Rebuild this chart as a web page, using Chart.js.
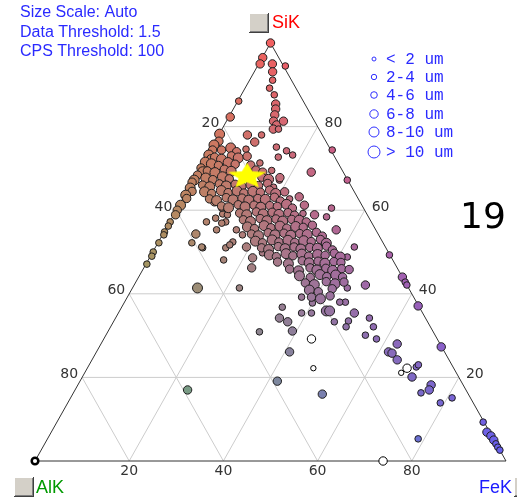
<!DOCTYPE html>
<html>
<head>
<meta charset="utf-8">
<script src="https://cdn.jsdelivr.net/npm/chart.js@4"></script>
<style>
  body { margin: 0; background: #fff; }
  canvas { display: block; }
</style>
</head>
<body>
<canvas id="chart" width="517" height="499"></canvas>
<script>
// Each point: [SiK %, FeK %, particle size in um]; AlK = 100 - SiK - FeK
const topColumn = [
  [100, 0, 7], [96.5, 0.1, 7], [95.0, 0.3, 7], [95.0, 2.9, 7], [94.5, 5.9, 5], [93.1, 3.9, 7],
  [91.1, 4.9, 5], [89.2, 5.2, 5], [87.6, 7.0, 5], [85.4, 8.4, 7], [84.2, 9.0, 7], [82.8, 9.5, 7],
  [81.3, 10.0, 7], [80.4, 11.1, 7], [79.4, 10.9, 7], [79.4, 12.0, 5], [81.3, 12.1, 7], [86.1, 0.2, 5],
];

const leftEdge = [
  [82.3, 0.3, 7], [78.2, 0.1, 9], [76.5, 0.8, 7], [75.6, 0.2, 9], [74.4, 0.5, 7], [73.2, 0.3, 9],
  [72.3, 1.2, 7], [71.5, 0.4, 9], [70.1, 0.2, 7], [69.2, 1.0, 9], [68.4, 0.3, 7], [67.2, 0.2, 9],
  [66.7, 0.0, 7], [65.3, 0.3, 9], [64.5, 1.1, 7], [63.6, 0.2, 9], [62.8, 0.8, 7], [61.2, 0.3, 9],
  [60.0, 0.2, 7], [58.9, 0.4, 7], [57.2, 0.1, 5], [56.2, 0.2, 5], [54.8, 0.1, 5], [54.1, 0.3, 5],
  [52.2, 0.2, 5], [50.0, 0.1, 5], [49.0, 0.3, 5], [47.1, 0.2, 5],
];

const upperBlob = [
  [74.4, 2.4, 7], [74.9, 4.1, 9], [74.0, 5.8, 7], [74.6, 7.5, 5],
  [72.7, 1.8, 7], [72.2, 3.5, 9], [73.0, 5.2, 7], [72.5, 6.9, 9], [72.9, 8.6, 7],
  [71.1, 1.9, 9], [70.7, 3.6, 7], [71.4, 5.3, 9], [71.0, 7.0, 7], [70.8, 10.4, 7], [71.3, 12.1, 5],
  [69.4, 1.9, 7], [69.0, 3.7, 9], [69.8, 5.3, 7], [69.3, 7.0, 9], [69.6, 12.1, 7], [69.1, 13.8, 7], [69.5, 15.5, 5],
  [67.7, 2.4, 9], [67.3, 4.1, 7], [68.0, 5.8, 9], [67.5, 7.5, 7], [67.9, 14.2, 7], [67.4, 15.9, 9], [67.8, 18.1, 7],
  [66.0, 2.6, 7], [65.6, 4.3, 9], [66.3, 6.0, 7], [65.8, 7.7, 9], [66.2, 9.4, 7], [65.7, 11.1, 7],
  [66.1, 12.8, 9], [65.9, 14.5, 7], [66.4, 16.2, 7], [65.5, 17.9, 5],
  [64.4, 3.8, 9], [64.0, 5.5, 7], [64.7, 7.2, 9], [64.2, 8.9, 7], [64.6, 10.6, 9], [64.1, 12.3, 7],
  [64.5, 14.0, 9], [64.3, 15.7, 7], [64.8, 17.4, 7], [64.0, 19.1, 9], [64.4, 20.8, 7],
  [62.7, 5.7, 7], [62.3, 7.4, 9], [63.0, 9.1, 7], [62.5, 10.8, 9], [62.9, 12.5, 7], [62.4, 14.2, 9],
  [62.8, 15.9, 7], [62.6, 17.6, 9], [63.1, 19.3, 7], [62.2, 21.0, 7], [62.7, 22.7, 5],
  [61.0, 9.1, 7], [60.6, 10.8, 9], [61.3, 12.5, 7], [60.8, 14.2, 9], [61.2, 15.9, 7], [60.7, 17.6, 9],
  [61.1, 19.3, 7], [60.9, 21.0, 7], [61.4, 22.7, 9], [60.5, 24.4, 7],
];

const centralCluster = [
  [59.3, 13.8, 7], [58.9, 15.5, 9], [59.6, 17.2, 7], [59.1, 18.9, 9], [59.5, 20.6, 7], [59.0, 22.3, 9],
  [59.4, 24.0, 7], [58.8, 25.7, 7], [59.2, 27.3, 5],
  [57.7, 15.4, 7], [57.3, 17.1, 9], [58.0, 18.8, 7], [57.5, 20.5, 9], [57.9, 22.2, 7], [57.4, 23.9, 9],
  [57.8, 25.6, 7], [57.6, 27.3, 9], [57.2, 29.0, 7],
  [56.0, 17.1, 9], [55.6, 18.8, 7], [56.3, 20.5, 9], [55.8, 22.2, 7], [56.2, 23.9, 9], [55.7, 25.6, 7],
  [56.1, 27.3, 9], [55.9, 29.0, 7], [56.4, 30.7, 7],
  [54.3, 18.8, 7], [53.9, 20.5, 9], [54.6, 22.2, 7], [54.1, 23.9, 9], [54.5, 25.6, 7], [54.0, 27.3, 9],
  [54.4, 29.0, 7], [54.2, 30.7, 9], [54.7, 32.4, 7], [53.8, 34.1, 7],
  [52.6, 20.5, 9], [52.2, 22.2, 7], [52.9, 23.9, 9], [52.4, 25.6, 7], [52.8, 27.3, 9], [52.3, 29.0, 7],
  [52.7, 30.7, 9], [52.5, 32.4, 7], [53.0, 34.1, 7], [52.1, 35.8, 9],
  [51.0, 22.6, 7], [50.6, 24.3, 9], [51.3, 26.0, 7], [50.8, 27.7, 9], [51.2, 29.4, 7], [50.7, 31.1, 9],
  [51.1, 32.8, 7], [50.9, 34.5, 9], [51.4, 36.2, 7], [50.5, 37.9, 7],
  [49.3, 25.1, 9], [48.9, 26.8, 7], [49.6, 28.5, 9], [49.1, 30.2, 7], [49.5, 31.9, 9], [49.0, 33.6, 7],
  [49.4, 35.3, 9], [49.2, 37.0, 7], [49.7, 38.7, 7], [48.8, 40.4, 9],
  [47.6, 27.7, 7], [47.2, 30.2, 9], [47.9, 32.8, 7], [47.4, 34.5, 9], [47.8, 36.2, 7], [47.3, 37.9, 9],
  [47.7, 39.6, 7], [47.5, 41.2, 7],
  [45.9, 31.1, 7], [45.5, 33.2, 9], [46.2, 35.3, 7], [45.7, 37.0, 9], [46.1, 38.7, 7], [45.6, 40.4, 9],
  [46.0, 42.1, 7], [45.8, 43.8, 7],
  [44.3, 34.0, 9], [43.9, 36.5, 7], [44.6, 38.2, 9], [44.1, 39.9, 7], [44.5, 41.6, 9], [44.0, 43.3, 7],
  [42.6, 36.1, 7], [42.2, 38.2, 9], [42.9, 40.4, 7], [42.4, 42.5, 9], [42.8, 44.2, 7],
  [40.9, 37.8, 9], [40.5, 39.9, 7], [41.2, 42.5, 7],
  [39.2, 39.1, 7], [38.8, 41.2, 9], [39.5, 42.9, 7],
];

const scattered = [
  [78.0, 6.1, 7], [78.0, 9.1, 5], [76.3, 8.5, 7], [75.1, 13.7, 5], [72.7, 15.3, 5], [74.2, 16.3, 5],
  [73.2, 18.1, 5], [69.1, 24.1, 7], [74.4, 25.9, 5], [67.2, 32.7, 5], [67.2, 18.3, 5], [63.2, 24.5, 7],
  [61.2, 26.6, 7], [58.9, 29.9, 7], [60.5, 32.7, 5], [58.4, 32.7, 5], [55.3, 36.3, 7], [51.2, 42.2, 5],
  [48.8, 41.9, 5], [49.3, 50.6, 5], [44.0, 56.0, 7], [42.8, 57.2, 5], [42.1, 57.9, 5], [42.1, 49.1, 7],
  [41.4, 45.6, 5], [38.0, 46.9, 5], [38.0, 45.7, 5], [35.9, 43.9, 9], [35.9, 44.6, 9], [35.4, 50.1, 7],
  [33.5, 49.8, 5], [32.1, 50.0, 5], [33.3, 46.9, 5], [34.2, 53.9, 5], [32.1, 55.8, 5], [29.2, 57.9, 5],
  [30.1, 55.1, 5], [37.1, 62.8, 7], [27.3, 72.6, 7], [28.0, 62.9, 7], [26.1, 62.0, 7], [25.8, 62.9, 7],
  [24.2, 64.8, 7], [22.5, 69.7, 5], [23.0, 69.9, 5], [20.1, 70.0, 7], [18.2, 75.0, 7], [17.0, 75.2, 7],
  [16.3, 73.8, 5], [13.9, 79.1, 5], [15.1, 81.0, 5], [5.3, 78.7, 5],
  [34.2, 34.8, 7], [33.3, 37.0, 7], [31.1, 39.1, 7], [26.1, 41.0, 7], [19.1, 41.9, 7], [16.0, 53.0, 7],
  [30.9, 32.2, 5], [35.4, 38.9, 5], [35.4, 41.0, 5], [37.8, 40.0, 5], [39.2, 37.0, 5], [36.8, 34.1, 5],
  [41.4, 13.8, 9], [41.4, 22.7, 5], [17.0, 23.9, 7],
  [62.0, 7.1, 7], [57.2, 7.8, 5], [58.1, 9.3, 5], [59.1, 10.3, 5], [57.2, 11.9, 5], [55.3, 10.9, 5],
  [54.3, 7.0, 7], [52.2, 7.2, 5], [51.0, 10.1, 5], [51.0, 15.0, 5], [48.1, 16.0, 5], [52.4, 15.8, 5],
  [46.2, 22.9, 7], [51.2, 9.8, 5], [56.9, 11.2, 5], [51.7, 15.5, 5], [55.3, 15.1, 5], [54.1, 17.0, 5],
  [51.2, 19.3, 7], [48.6, 21.9, 7], [49.8, 23.4, 5], [58.9, 11.4, 5], [60.5, 9.4, 5],
];

const feCorner = [
  [9.3, 90.5, 5], [6.9, 92.5, 7], [6.0, 93.8, 7], [5.0, 94.9, 7], [4.1, 95.8, 5], [3.3, 96.6, 5], [2.6, 97.4, 5],
];

const hollowPoints = [
  [29.2, 44.1, 7], [22.2, 48.0, 3], [22.2, 67.9, 7], [21.1, 67.2, 3], [0, 73.9, 7], [0, 0, 5],
];

const averagePoint = [68.1, 11.0];

const gridSteps = [20, 40, 60, 80];
const sizeLabels = ['< 2 um', '2-4 um', '4-6 um', '6-8 um', '8-10 um', '> 10 um'];
const sizeClassUm = [1, 3, 5, 7, 9, 11];
const infoLines = ['Size Scale: Auto', 'Data Threshold: 1.5', 'CPS Threshold: 100'];
const frameNumber = '19';

const SI_RGB = [240, 96, 96], AL_RGB = [96, 196, 100], FE_RGB = [100, 96, 240];

function mixColor(si, fe) {
  const al = Math.max(0, 100 - si - fe);
  const c = [0, 1, 2].map(i => Math.round((si * SI_RGB[i] + al * AL_RGB[i] + fe * FE_RGB[i]) / 100));
  return `rgb(${c.join(',')})`;
}

function radiusFor(um) {
  if (um < 2) return 2;
  if (um < 4) return 2.7;
  if (um < 6) return 3.3;
  if (um < 8) return 4.2;
  if (um < 10) return 5;
  return 6;
}

const toXY = (si, fe) => ({ x: fe + si / 2, y: si });

function group(list) {
  return {
    data: list.map(p => toXY(p[0], p[1])),
    pointRadius: list.map(p => radiusFor(p[2])),
    pointBackgroundColor: list.map(p => mixColor(p[0], p[1])),
    pointBorderColor: '#1e1e1e',
    pointBorderWidth: 1,
    clip: false,
  };
}

// filled yellow star used for the average composition
const star = document.createElement('canvas');
star.width = 44; star.height = 32;
(() => {
  const s = star.getContext('2d');
  s.beginPath();
  for (let i = 0; i < 10; i++) {
    const a = -Math.PI / 2 + i * Math.PI / 5;
    const r = i % 2 === 0 ? 1 : 0.45;
    const px = 22 + Math.cos(a) * 20 * r;
    const py = 16 + Math.sin(a) * 13.5 * r;
    i === 0 ? s.moveTo(px, py) : s.lineTo(px, py);
  }
  s.closePath();
  s.fillStyle = '#ffff00';
  s.fill();
})();

function drawButton(ctx, x, y, w, h) {
  ctx.fillStyle = '#d4d0c8';
  ctx.fillRect(x, y, w, h);
  ctx.fillStyle = '#ffffff';
  ctx.fillRect(x, y, w, 1);
  ctx.fillRect(x, y, 1, h);
  ctx.fillStyle = '#808080';
  ctx.fillRect(x + 1, y + h - 2, w - 1, 1);
  ctx.fillRect(x + w - 2, y + 1, 1, h - 1);
  ctx.fillStyle = '#404040';
  ctx.fillRect(x, y + h - 1, w, 1);
  ctx.fillRect(x + w - 1, y, 1, h);
}

const ternaryFrame = {
  id: 'ternaryFrame',
  beforeDatasetsDraw(chart) {
    const { ctx, scales: { x, y } } = chart;
    const P = (si, fe) => [x.getPixelForValue(fe + si / 2), y.getPixelForValue(si)];
    const seg = (a, b) => { ctx.beginPath(); ctx.moveTo(a[0], a[1]); ctx.lineTo(b[0], b[1]); ctx.stroke(); };
    ctx.save();
    ctx.lineWidth = 1;
    ctx.strokeStyle = '#cccccc';
    gridSteps.forEach(v => {
      seg(P(v, 0), P(v, 100 - v));
      seg(P(0, v), P(100 - v, v));
      seg(P(0, 100 - v), P(100 - v, 0));
    });
    ctx.strokeStyle = '#333333';
    ctx.beginPath();
    ctx.moveTo(...P(0, 0));
    ctx.lineTo(...P(100, 0));
    ctx.lineTo(...P(0, 100));
    ctx.closePath();
    ctx.stroke();

    // tick labels
    ctx.fillStyle = '#333333';
    ctx.font = '14px "DejaVu Sans"';
    ctx.textBaseline = 'middle';
    gridSteps.forEach(v => {
      let p = P(100 - v, 0);
      ctx.textAlign = 'right';
      ctx.fillText(String(v), p[0] - 4, p[1] - 3);
      p = P(v, 100 - v);
      ctx.textAlign = 'left';
      ctx.fillText(String(v), p[0] + 7, p[1] - 3);
      p = P(0, v);
      ctx.textAlign = 'center';
      ctx.fillText(String(v), p[0], p[1] + 10);
    });
    ctx.restore();
  },
  afterDraw(chart) {
    const { ctx } = chart;
    ctx.save();
    // corner labels with buttons
    drawButton(ctx, 249, 13, 20, 20);
    drawButton(ctx, 14, 477, 20, 20);
    drawButton(ctx, 514, 477, 20, 20);
    ctx.font = '18px "Liberation Sans", Arial, sans-serif';
    ctx.textBaseline = 'middle';
    ctx.textAlign = 'left';
    ctx.fillStyle = '#ff0000';
    ctx.fillText('SiK', 272, 23);
    ctx.fillStyle = '#009a00';
    ctx.fillText('AlK', 36, 488);
    ctx.fillStyle = '#1a1aff';
    ctx.textAlign = 'right';
    ctx.fillText('FeK', 512, 488);

    // info text
    ctx.textAlign = 'left';
    ctx.font = '16px "Liberation Sans", Arial, sans-serif';
    ctx.fillStyle = '#2a2aff';
    infoLines.forEach((t, i) => ctx.fillText(t, 20, 13 + i * 19.5));

    // size legend
    ctx.font = '16px "Liberation Mono", monospace';
    const rowY = [59, 77, 95, 114, 132, 152];
    sizeLabels.forEach((t, i) => {
      ctx.strokeStyle = '#3030ff';
      ctx.lineWidth = 1;
      ctx.beginPath();
      ctx.arc(374, rowY[i], radiusFor(sizeClassUm[i]), 0, Math.PI * 2);
      ctx.stroke();
      ctx.fillStyle = '#2a2aff';
      ctx.fillText(t, 386, rowY[i] + 1);
    });

    // frame number
    ctx.fillStyle = '#000000';
    ctx.font = '36px "DejaVu Sans"';
    ctx.textAlign = 'center';
    ctx.fillText(frameNumber, 483, 219);
    ctx.restore();
  },
};

const hollow = group(hollowPoints);
hollow.pointBackgroundColor = '#ffffff';
hollow.pointBorderColor = '#000000';
hollow.pointBorderWidth = hollowPoints.map(p => (p[0] === 0 && p[1] === 0 ? 2.5 : 1));

// Chart.js paints the first dataset last, so the star goes first to sit on top
new Chart(document.getElementById('chart'), {
  type: 'scatter',
  data: {
    datasets: [
      {
        data: [toXY(averagePoint[0], averagePoint[1])],
        pointStyle: star,
        pointRadius: 10,
        clip: false,
      },
      hollow,
      group(feCorner),
      group(centralCluster),
      group(upperBlob),
      group(scattered),
      group(leftEdge),
      group(topColumn),
    ],
  },
  options: {
    responsive: false,
    animation: false,
    events: [],
    layout: { padding: { left: 35, right: 10, top: 43, bottom: 38 } },
    scales: {
      x: { type: 'linear', min: 0, max: 100, display: false },
      y: { type: 'linear', min: 0, max: 100, display: false },
    },
    plugins: { legend: { display: false }, tooltip: { enabled: false } },
  },
  plugins: [ternaryFrame],
});
</script>
</body>
</html>
